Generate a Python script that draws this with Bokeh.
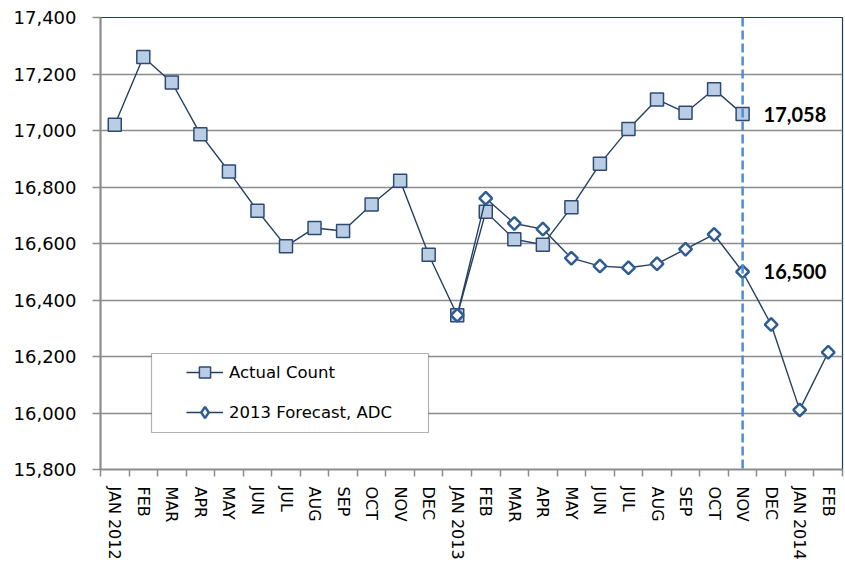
import numpy as np
from bokeh.plotting import figure
from bokeh.models import (Range1d, FixedTicker, NumeralTickFormatter, Span, Legend,
                          LegendItem, BoxAnnotation, ColumnDataSource)
from bokeh.core.properties import value
from bokeh.embed import file_html
from bokeh.resources import INLINE

# ---- data ----
months = ["JAN 2012", "FEB", "MAR", "APR", "MAY", "JUN", "JUL", "AUG", "SEP", "OCT",
          "NOV", "DEC", "JAN 2013", "FEB", "MAR", "APR", "MAY", "JUN", "JUL", "AUG",
          "SEP", "OCT", "NOV", "DEC", "JAN 2014", "FEB"]
actual_count = [17020, 17260, 17170, 16987, 16855, 16716, 16590, 16655, 16644, 16738,
                16822, 16560, 16346, 16712, 16615, 16596, 16728, 16882, 17005, 17110,
                17063, 17146, 17058]
forecast_start = 12  # JAN 2013
forecast_adc = [16346, 16760, 16671, 16651, 16548, 16520, 16514, 16528, 16580, 16632,
                16500, 16313, 16011, 16215]
y_ticks = [15800, 16000, 16200, 16400, 16600, 16800, 17000, 17200, 17400]
marker_month = 22  # NOV 2013

FONT = "DejaVu Sans"
BOLD_FONT = "Lato"
NAVY = "#243F60"

x_actual = list(range(len(actual_count)))
x_fc = list(range(forecast_start, forecast_start + len(forecast_adc)))

p = figure(width=845, height=562, output_backend="svg", toolbar_location=None,
           x_range=Range1d(-0.5, len(months) - 0.5), y_range=Range1d(y_ticks[0], y_ticks[-1]),
           min_border_left=100, min_border_right=3, min_border_top=17, min_border_bottom=91)
p.background_fill_color = "white"
p.border_fill_color = "white"
p.outline_line_color = "#1F3A68"
p.outline_line_width = 1.2

# x axis
xa = p.xaxis[0]
xa.ticker = FixedTicker(ticks=list(range(len(months))),
                        minor_ticks=[i - 0.5 for i in range(len(months) + 1)])
xa.major_label_overrides = {i: m for i, m in enumerate(months)}
xa.major_label_orientation = -np.pi / 2
xa.major_tick_line_color = None
xa.major_tick_out = 7
xa.major_tick_in = 0
xa.minor_tick_out = 7
xa.minor_tick_in = 0
xa.minor_tick_line_color = "#8C8C8C"
xa.minor_tick_line_width = 1.5
xa.axis_line_color = "#8C8C8C"
xa.axis_line_width = 2
xa.major_label_standoff = 10
xa.major_label_text_font = FONT
xa.major_label_text_font_size = "16px"
xa.major_label_text_color = "black"

# y axis
ya = p.yaxis[0]
ya.ticker = FixedTicker(ticks=y_ticks)
ya.formatter = NumeralTickFormatter(format="0,0")
ya.major_tick_out = 8
ya.major_tick_in = 0
ya.minor_tick_line_color = None
ya.major_tick_line_color = "#8C8C8C"
ya.major_tick_line_width = 1.5
ya.axis_line_color = "#8C8C8C"
ya.axis_line_width = 2
ya.major_label_standoff = 16
ya.major_label_text_font = FONT
ya.major_label_text_font_size = "18px"
ya.major_label_text_color = "black"

p.xgrid.grid_line_color = None
p.ygrid.grid_line_color = "#8C8C8C"
p.ygrid.grid_line_width = 1.5

# vertical dashed line
p.add_layout(Span(location=marker_month, dimension="height", line_color="#4F8BD6",
                  line_width=2.5, line_dash="9 4"))

# series
src_a = ColumnDataSource(dict(x=x_actual, y=actual_count))
src_f = ColumnDataSource(dict(x=x_fc, y=forecast_adc))

la = p.line("x", "y", source=src_a, line_color=NAVY, line_width=1.4)
sa = p.scatter("x", "y", source=src_a, marker="square", size=13,
               fill_color="#B9CDE5", line_color="#2E4A74", line_width=1.5)
lf = p.line("x", "y", source=src_f, line_color=NAVY, line_width=1.4)
sf = p.scatter("x", "y", source=src_f, marker="square", angle=np.pi / 4, size=9,
               fill_color="white", line_color="#2F5D93", line_width=2.5)
# legend-only diamond glyph (not drawn in the plot: NaN position)
sf_leg = p.scatter(x=[np.nan], y=[np.nan], marker="diamond", size=12,
                   fill_color="white", line_color="#2F5D93", line_width=2.5)

# data labels
lab_src = ColumnDataSource(dict(
    x=[x_actual[-1], x_fc[forecast_adc.index(16500)]],
    y=[actual_count[-1], 16500],
    t=["{:,}".format(actual_count[-1]), "{:,}".format(16500)]))
p.text("x", "y", text="t", source=lab_src, x_offset=21, text_baseline="middle",
       text_font=value(BOLD_FONT), text_font_size="20px", text_font_style="bold",
       text_color="black")

# legend box
p.add_layout(BoxAnnotation(left=151, right=428, top=353, bottom=432,
                           left_units="canvas", right_units="canvas",
                           top_units="canvas", bottom_units="canvas",
                           fill_color="white", fill_alpha=1.0,
                           line_color="black", line_width=1.2))

legend = Legend(items=[LegendItem(label="Actual Count", renderers=[la, sa]),
                       LegendItem(label="2013 Forecast, ADC", renderers=[lf, sf_leg])],
                location=(86, 43), padding=6, spacing=12, glyph_width=37,
                glyph_height=28, label_height=20, label_standoff=6, margin=0,
                border_line_color=None, background_fill_alpha=0,
                label_text_font=FONT, label_text_font_size="16.5px",
                label_text_color="black")
p.add_layout(legend, "center")

open("out.html", "w").write(file_html(p, INLINE))
